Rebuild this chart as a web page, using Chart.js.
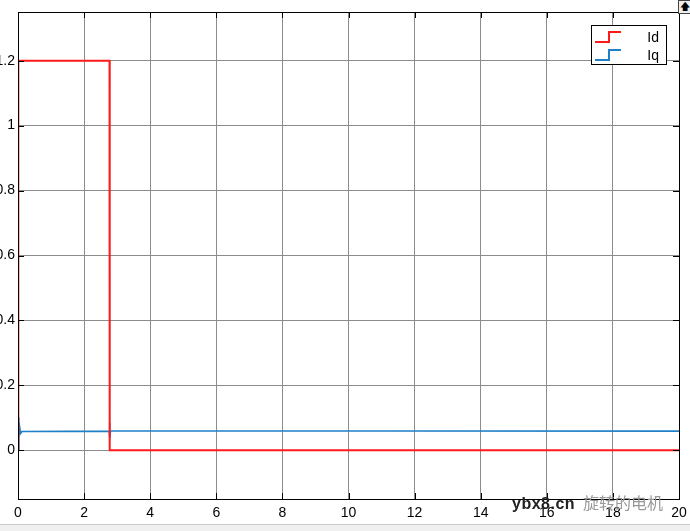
<!DOCTYPE html>
<html>
<head>
<meta charset="utf-8">
<script src="https://cdn.jsdelivr.net/npm/chart.js@4"></script>
<style>
  html, body { margin: 0; padding: 0; background: #fff; overflow: hidden; }
  #wrap { position: relative; width: 690px; height: 531px; overflow: hidden; }
  #plot { position: absolute; left: -20px; top: 0; }
  #mark { position: absolute; left: 512px; top: 490px; font-family: "Liberation Sans", Arial, sans-serif; white-space: nowrap; }
  #mark b { font-size: 16px; font-weight: bold; color: #222; letter-spacing: 0.5px; }
  #mark span { font-family: "Noto Sans CJK SC", sans-serif; font-size: 16px; color: #999; margin-left: 8px; }
  #btn { position: absolute; left: 678px; top: 0; width: 11px; height: 12px; border: 1px solid #444; background: #eee; font: 10px sans-serif; line-height: 11px; text-align: center; }
  #foot { position: absolute; left: 0; top: 524px; width: 690px; height: 7px; background: #f0f0f0; border-top: 1px solid #ccc; }
</style>
</head>
<body>
<div id="wrap">
  <canvas id="plot" width="710" height="531"></canvas>
  <div id="btn">&#129093;</div>
  <div id="mark"><b>ybx8.cn</b><span>旋转的电机</span></div>
  <div id="foot"></div>
</div>
<script>
// time axis and values
let idTime = [0, 0.01, 2.77, 2.775, 20];
let idValues = [0, 1.2, 1.2, 0, 0];
let iqTime = [0, 0.02, 0.03, 0.05, 0.08, 0.12, 2.76, 2.77, 2.78, 2.8, 20];
let iqValues = [0, 0.1, 0.04, 0.072, 0.052, 0.058, 0.059, 0.086, 0.037, 0.06, 0.059];
let xTicks = [0, 2, 4, 6, 8, 10, 12, 14, 16, 18, 20];
let yTicks = [0, 0.2, 0.4, 0.6, 0.8, 1, 1.2];

const idColor = '#ff1a1a';
const iqColor = '#1f80c8';

function toPoints(xs, ys) {
    return xs.map((x, i) => ({ x: x, y: ys[i] }));
}

// frame, inward tick marks and the step-style legend
const scopeFrame = {
    id: 'scopeFrame',
    afterDraw: (chart) => {
        let ctx = chart.ctx;
        let a = chart.chartArea;
        let xs = chart.scales.x, ys = chart.scales.y;
        ctx.save();
        ctx.strokeStyle = '#000';
        ctx.lineWidth = 1;
        ctx.strokeRect(Math.round(a.left) + 0.5, Math.round(a.top) + 0.5, Math.round(a.right - a.left), Math.round(a.bottom - a.top));
        ctx.beginPath();
        xTicks.forEach(t => {
            let px = Math.round(xs.getPixelForValue(t)) + 0.5;
            ctx.moveTo(px, a.bottom); ctx.lineTo(px, a.bottom - 6);
            ctx.moveTo(px, a.top); ctx.lineTo(px, a.top + 6);
        });
        yTicks.forEach(t => {
            let py = Math.round(ys.getPixelForValue(t)) + 0.5;
            ctx.moveTo(a.left, py); ctx.lineTo(a.left + 6, py);
            ctx.moveTo(a.right, py); ctx.lineTo(a.right - 6, py);
        });
        ctx.stroke();

        // legend box
        let bx = 611, by = 25, bw = 75, bh = 39;
        ctx.fillStyle = '#fff';
        ctx.fillRect(bx, by, bw, bh);
        ctx.strokeRect(bx + 0.5, by + 0.5, bw, bh);
        let items = [['Id', idColor, by + 13], ['Iq', iqColor, by + 31]];
        items.forEach(([label, color, y]) => {
            ctx.strokeStyle = color;
            ctx.lineWidth = 2;
            ctx.beginPath();
            ctx.moveTo(bx + 4, y + 4);
            ctx.lineTo(bx + 18, y + 4);
            ctx.lineTo(bx + 18, y - 6);
            ctx.lineTo(bx + 30, y - 6);
            ctx.stroke();
            ctx.fillStyle = '#000';
            ctx.font = '14px "Liberation Sans", Arial, sans-serif';
            ctx.textAlign = 'right';
            ctx.textBaseline = 'middle';
            ctx.fillText(label, bx + 68, y);
        });
        ctx.restore();
    }
};

new Chart(document.getElementById('plot').getContext('2d'), {
    type: 'line',
    data: {
        datasets: [
            {
                label: 'Id',
                data: toPoints(idTime, idValues),
                borderColor: idColor,
                borderWidth: 2,
                pointRadius: 0,
                tension: 0,
                fill: false
            },
            {
                label: 'Iq',
                data: toPoints(iqTime, iqValues),
                borderColor: iqColor,
                borderWidth: 1.6,
                pointRadius: 0,
                tension: 0,
                fill: false
            }
        ]
    },
    options: {
        responsive: false,
        animation: false,
        layout: { padding: { top: 12, right: 11, left: 0, bottom: 0 } },
        scales: {
            x: {
                type: 'linear',
                min: 0,
                max: 20,
                afterBuildTicks: (scale) => { scale.ticks = xTicks.map(v => ({ value: v })); },
                afterFit: (scale) => { scale.height = 32; scale.paddingLeft = 0; scale.paddingRight = 0; },
                grid: { color: '#8c8c8c', drawTicks: false },
                border: { display: true, color: '#000' },
                ticks: {
                    padding: 6,
                    color: '#000',
                    maxRotation: 0,
                    font: { family: '"Liberation Sans", Arial, sans-serif', size: 14 }
                }
            },
            y: {
                min: -0.15,
                max: 1.35,
                afterBuildTicks: (scale) => { scale.ticks = yTicks.map(v => ({ value: v })); },
                afterFit: (scale) => { scale.width = 38; scale.paddingTop = 0; scale.paddingBottom = 0; },
                grid: { color: '#8c8c8c', drawTicks: false },
                border: { display: true, color: '#000' },
                ticks: {
                    padding: 3,
                    color: '#000',
                    font: { family: '"Liberation Sans", Arial, sans-serif', size: 14 },
                    callback: (v) => String(Math.round(v * 10) / 10)
                }
            }
        },
        plugins: {
            legend: { display: false },
            tooltip: { enabled: false }
        }
    },
    plugins: [scopeFrame]
});
</script>
</body>
</html>
